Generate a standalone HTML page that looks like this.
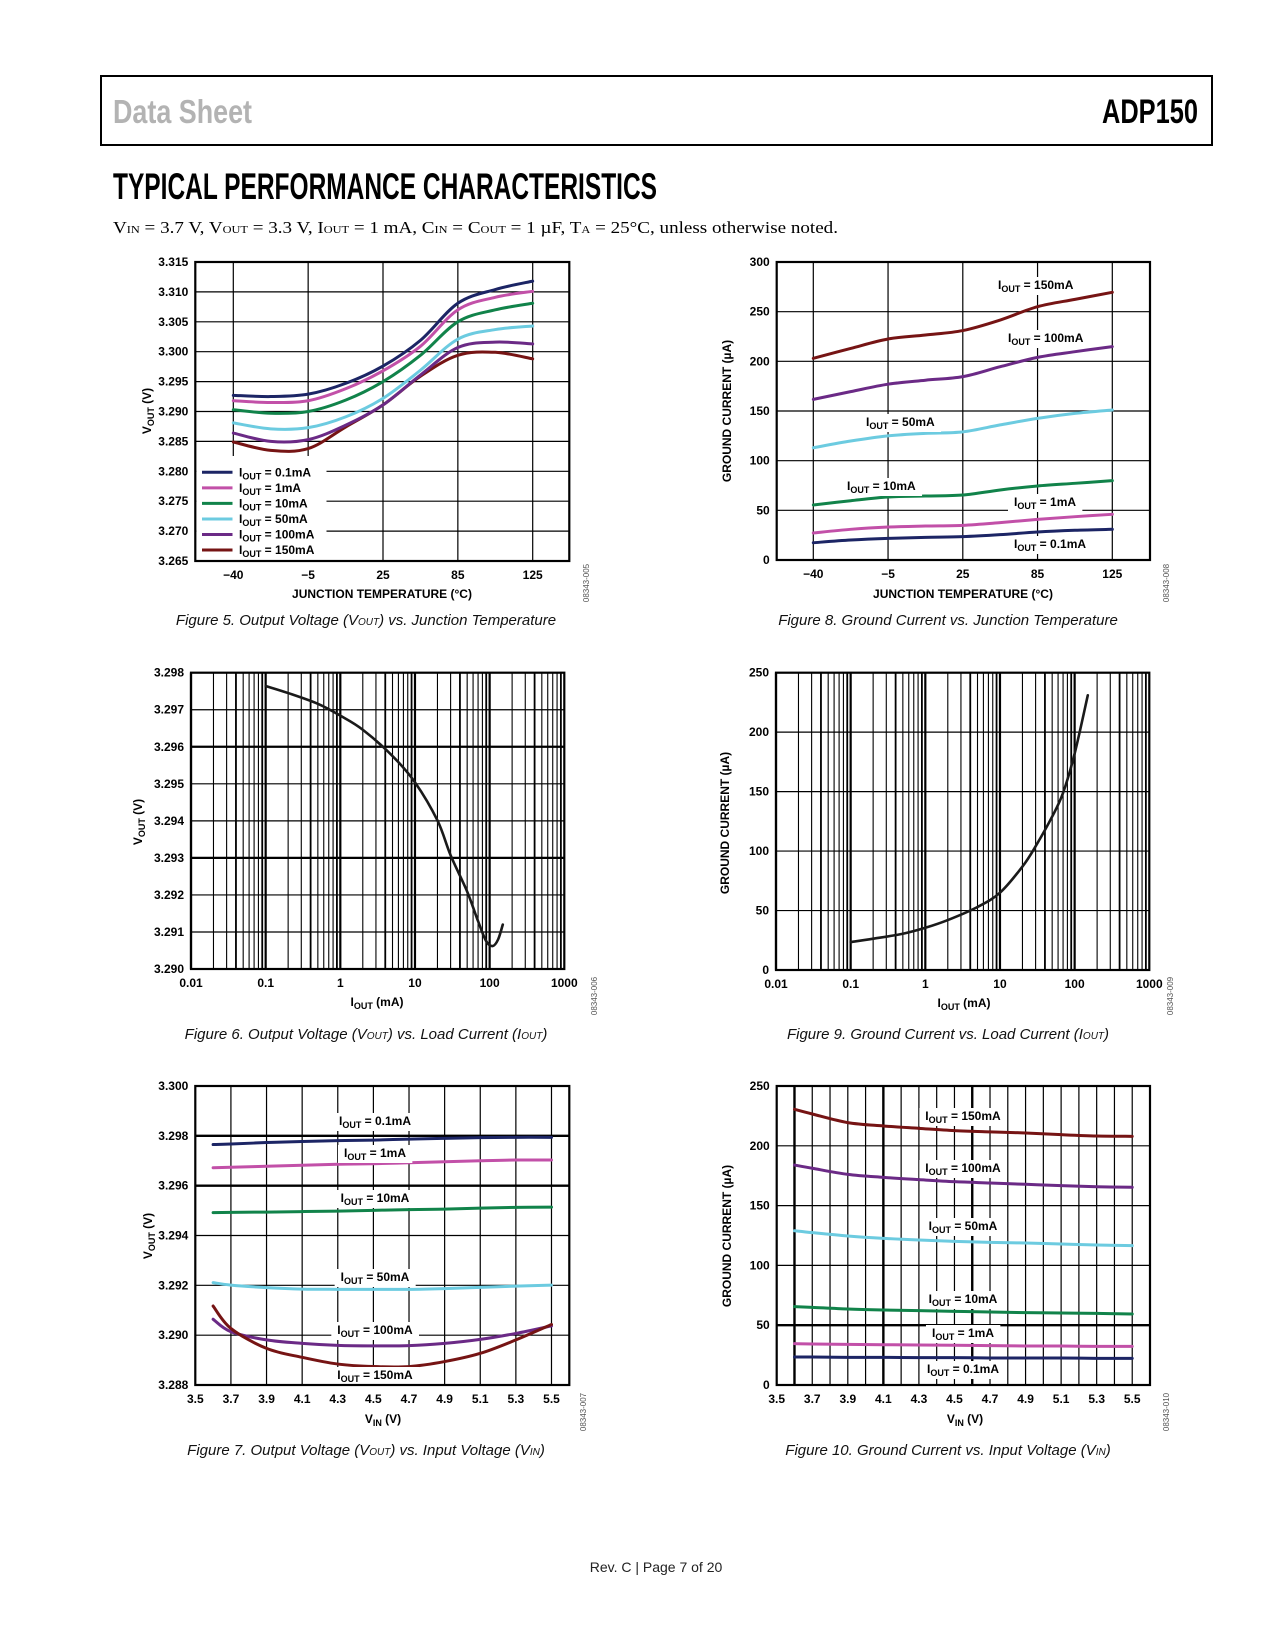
<!DOCTYPE html>
<html><head><meta charset="utf-8"><title>ADP150 Typical Performance Characteristics</title>
<style>
html,body{margin:0;padding:0;background:#fff;}
svg{display:block;}
.tk{font-family:"Liberation Sans",Arial,sans-serif;font-weight:bold;font-size:12px;fill:#000;}
.lab{font-family:"Liberation Sans",Arial,sans-serif;font-weight:bold;font-size:12px;fill:#000;}
.cap{font-family:"Liberation Sans",Arial,sans-serif;font-style:italic;font-size:15px;fill:#111;}
.fid{font-family:"Liberation Sans",Arial,sans-serif;font-size:8px;fill:#555;}
</style></head>
<body>
<svg id="page" width="1275" height="1650" viewBox="0 0 1275 1650" xmlns="http://www.w3.org/2000/svg">
  <rect x="0" y="0" width="1275" height="1650" fill="#fff"/>
  <rect x="101" y="76" width="1111" height="69" fill="none" stroke="#000" stroke-width="2"/>
  <text x="113" y="123" font-family="'Liberation Sans Narrow','Liberation Sans',sans-serif" font-weight="bold" font-size="33" fill="#b3b3b3" textLength="139" lengthAdjust="spacingAndGlyphs">Data Sheet</text>
  <text x="1102" y="123" font-family="'Liberation Sans Narrow','Liberation Sans',sans-serif" font-weight="bold" font-size="34" fill="#000" textLength="96" lengthAdjust="spacingAndGlyphs">ADP150</text>
  <text x="113" y="199" font-family="'Liberation Sans Narrow','Liberation Sans',sans-serif" font-weight="bold" font-size="37" fill="#000" textLength="544" lengthAdjust="spacingAndGlyphs">TYPICAL PERFORMANCE CHARACTERISTICS</text>
  <text x="113" y="233" font-family="'Liberation Serif',serif" font-size="17" fill="#000" textLength="725" lengthAdjust="spacingAndGlyphs">V<tspan font-size="11">IN</tspan> = 3.7 V, V<tspan font-size="11">OUT</tspan> = 3.3 V, I<tspan font-size="11">OUT</tspan> = 1 mA, C<tspan font-size="11">IN</tspan> = C<tspan font-size="11">OUT</tspan> = 1 µF, T<tspan font-size="11">A</tspan> = 25°C, unless otherwise noted.</text>
  <text x="656" y="1572" text-anchor="middle" font-family="'Liberation Sans',sans-serif" font-size="14" fill="#222">Rev. C | Page 7 of 20</text>
  <g id="charts"></g>
</svg>
<script>
// ---------- Figure 5 data ----------
const f5TempLabels = ["\u221240","\u22125","25","85","125"];
const f5Idx = [0,0.5,1,1.5,2,2.5,3,3.5,4];
const f5Yticks = [3.265,3.270,3.275,3.280,3.285,3.290,3.295,3.300,3.305,3.310,3.315];
const f5_01 = [3.2927,3.2925,3.2929,3.2947,3.2976,3.3019,3.3081,3.3104,3.3118];
const f5_1 = [3.2918,3.2915,3.2918,3.2938,3.2968,3.3009,3.3070,3.3091,3.3101];
const f5_10 = [3.2903,3.2897,3.2900,3.2919,3.2950,3.2994,3.3050,3.3070,3.3081];
const f5_50 = [3.2881,3.2871,3.2873,3.2891,3.2922,3.2969,3.3021,3.3037,3.3043];
const f5_100 = [3.2864,3.2850,3.2853,3.2877,3.2911,3.2961,3.3007,3.3016,3.3013];
const f5_150 = [3.2849,3.2835,3.2838,3.2874,3.2911,3.2959,3.2994,3.2999,3.2988];
// ---------- Figure 8 data ----------
const f8Yticks = [0,50,100,150,200,250,300];
const f8_150 = [203,213,222.5,226.5,231,241.6,255,262.4,269.5];
const f8_100 = [161.7,169.5,177,181,184.6,194.6,204,209.7,214.8];
const f8_50 = [113,119.8,125,127.5,129,136,142.6,147.6,151];
const f8_10 = [55.4,59.7,63.4,64.4,65.4,70.5,74.5,77.2,79.9];
const f8_1 = [27.2,30.9,33.2,34.2,34.9,37.6,40.9,43.6,46];
const f8_01 = [17.4,20.1,21.8,22.8,23.5,25.5,28.2,29.9,30.9];
// ---------- Figure 6 data ----------
const logTicks = [0.01,0.1,1,10,100,1000];
const logTickLabels = ["0.01","0.1","1","10","100","1000"];
const f6Yticks = [3.290,3.291,3.292,3.293,3.294,3.295,3.296,3.297,3.298];
const f6I = [0.1,0.2,0.5,1,2,5,10,20,30,50,70,90,110,130,150];
const f6V = [3.29764,3.29745,3.29716,3.29684,3.29646,3.29575,3.29504,3.29401,3.29307,3.29209,3.29129,3.29075,3.29062,3.29080,3.29120];
// ---------- Figure 9 data ----------
const f9Yticks = [0,50,100,150,200,250];
const f9I = [0.1,0.2,0.5,1,2,5,10,20,30,50,70,100,150];
const f9G = [23.5,26.3,30.5,35.5,42,53,65,87,104,129,149,182,231];
// ---------- Figure 7 data ----------
const vinTicks = [3.5,3.7,3.9,4.1,4.3,4.5,4.7,4.9,5.1,5.3,5.5];
const vinPts = [3.6,3.7,3.9,4.1,4.3,4.5,4.7,4.9,5.1,5.3,5.5];
const f7Yticks = [3.288,3.290,3.292,3.294,3.296,3.298,3.300];
const f7_01 = [3.29765,3.29767,3.29773,3.29777,3.29781,3.29783,3.29787,3.29790,3.29793,3.29794,3.29794];
const f7_1 = [3.29672,3.29674,3.29678,3.29682,3.29686,3.29688,3.29692,3.29696,3.29700,3.29703,3.29703];
const f7_10 = [3.29492,3.29493,3.29494,3.29496,3.29498,3.29501,3.29504,3.29506,3.29510,3.29513,3.29514];
const f7_50 = [3.29211,3.29201,3.29191,3.29185,3.29184,3.29184,3.29184,3.29187,3.29192,3.29197,3.29201];
const f7_100 = [3.29064,3.29014,3.28981,3.28967,3.28959,3.28957,3.28958,3.28967,3.28983,3.29007,3.29037];
const f7_150 = [3.29117,3.29027,3.28947,3.28911,3.28884,3.28874,3.28874,3.28894,3.28927,3.28981,3.29043];
// ---------- Figure 10 data ----------
const f10Yticks = [0,50,100,150,200,250];
const f10_150 = [230.5,226.6,219.4,216.6,214.6,212.7,211.6,210.7,209.3,208.2,207.9];
const f10_100 = [183.9,181.2,176.1,173.6,171.7,170,168.9,167.8,166.7,165.8,165.3];
const f10_50 = [129,127.4,124.6,122.6,121.2,120.1,119.3,118.7,117.9,117.1,116.5];
const f10_10 = [65.5,64.9,63.5,62.7,62.2,61.6,61,60.5,60.2,59.9,59.4];
const f10_1 = [34.6,34.3,34,33.7,33.4,33.2,32.9,32.6,32.6,32.3,32.3];
const f10_01 = [23.4,23.4,23.1,23.1,22.9,22.9,22.6,22.6,22.6,22.3,22.3];

const C = {n:"#1c2565",p:"#c250a8",g:"#11834a",c:"#6ccbe0",u:"#6b2a86",m:"#761414"};
const NS = "http://www.w3.org/2000/svg";
const root = document.getElementById('charts');

function mk(tag, attrs, parent){
  const e = document.createElementNS(NS, tag);
  for (const k in attrs) e.setAttribute(k, attrs[k]);
  (parent||root).appendChild(e);
  return e;
}
function lin(d0,d1,r0,r1){ return v => r0 + (v-d0)/(d1-d0)*(r1-r0); }
function logs(d0,d1,r0,r1){ const a=Math.log10(d0), b=Math.log10(d1); return v => r0 + (Math.log10(v)-a)/(b-a)*(r1-r0); }
function smoothPath(pts){
  let d = "M"+pts[0][0].toFixed(2)+","+pts[0][1].toFixed(2);
  for (let i=0;i<pts.length-1;i++){
    const p0=pts[i-1]||pts[i], p1=pts[i], p2=pts[i+1], p3=pts[i+2]||p2;
    const c1x=p1[0]+(p2[0]-p0[0])/6, c1y=p1[1]+(p2[1]-p0[1])/6;
    const c2x=p2[0]-(p3[0]-p1[0])/6, c2y=p2[1]-(p3[1]-p1[1])/6;
    d += " C"+c1x.toFixed(2)+","+c1y.toFixed(2)+" "+c2x.toFixed(2)+","+c2y.toFixed(2)+" "+p2[0].toFixed(2)+","+p2[1].toFixed(2);
  }
  return d;
}
function series(g, xs, ys, sx, sy, color, name, w){
  const pts = xs.map((x,i)=>[sx(x), sy(ys[i])]);
  const p = mk('path', {d:smoothPath(pts), fill:'none', stroke:color, 'stroke-width':w||3, 'stroke-linecap':'round','stroke-linejoin':'round'}, g);
  
  
  return p;
}
function hline(g,x1,x2,y,w){ mk('line',{x1:x1,x2:x2,y1:y,y2:y,stroke:'#000','stroke-width':w||1.2},g); }
function vline(g,x,y1,y2,w){ mk('line',{x1:x,x2:x,y1:y1,y2:y2,stroke:'#000','stroke-width':w||1.2},g); }
function ioutLabel(g, x, y, val, anchor, name, bg){
  const t = mk('text', {x:x, y:y+4, class:'lab', 'text-anchor':anchor||'start'}, g);
  
  
  t.innerHTML = 'I<tspan font-size="9" dy="3">OUT</tspan><tspan dy="-3"> = '+val+'</tspan>';
  if (bg!==false){
    const b = t.getBBox();
    const r = document.createElementNS(NS,'rect');
    r.setAttribute('x', b.x-6); r.setAttribute('y', b.y-1);
    r.setAttribute('width', b.width+12); r.setAttribute('height', b.height+2);
    r.setAttribute('fill','#fff');
    g.insertBefore(r, t);
  }
  return t;
}
function yAxisTitle(g,x,y,html,name){
  const t = mk('text',{x:0,y:0,class:'lab','text-anchor':'middle',transform:'translate('+x+','+y+') rotate(-90)'},g);
  
  
  t.innerHTML = html;
}
function txt(g,x,y,s,cls,anchor,name){
  const t = mk('text',{x:x,y:y,class:cls,'text-anchor':anchor||'middle'},g);
  
  
  t.innerHTML = s;
  return t;
}
function figId(g,x,y,s){
  const t = mk('text',{x:0,y:0,class:'fid','text-anchor':'middle',transform:'translate('+x+','+y+') rotate(-90)'},g);
  
  
  t.textContent = s;
}
function yTicks(g, ticks, sy, L, fmt){
  ticks.forEach(v=>{ const t=txt(g, L-8, sy(v)+4, fmt(v), 'tk', 'end', 'y-tick-label'); });
}
function frame(g,L,T,R,B){
  const r = mk('rect',{x:L,y:T,width:R-L,height:B-T,fill:'none',stroke:'#000','stroke-width':2.2},g);
  
  
}

// ================= Figure 5 =================
(function(){
  const g = mk('g',{});  
  const L=195.3,R=569.3,T=262,B=561;
  const sx = lin(0,4,233.3,532.7), sy = lin(3.265,3.315,B,T);
  f5Yticks.forEach(v=>hline(g,L,R,sy(v)));
  f5TempLabels.forEach((s,i)=>vline(g,sx(i),T,B));
  series(g,f5Idx,f5_150,sx,sy,C.m,'line-150ma');
  series(g,f5Idx,f5_100,sx,sy,C.u,'line-100ma');
  series(g,f5Idx,f5_50,sx,sy,C.c,'line-50ma');
  series(g,f5Idx,f5_10,sx,sy,C.g,'line-10ma');
  series(g,f5Idx,f5_1,sx,sy,C.p,'line-1ma');
  series(g,f5Idx,f5_01,sx,sy,C.n,'line-0p1ma');
  // legend
  const lg = mk('g',{},g);  
  mk('rect',{x:L+1.2,y:456,width:130,height:B-457,fill:'#fff'},lg);
  const ent = [["0.1mA",C.n],["1mA",C.p],["10mA",C.g],["50mA",C.c],["100mA",C.u],["150mA",C.m]];
  ent.forEach((e,i)=>{
    const y = 472.3 + i*15.55;
    const l = mk('line',{x1:202,x2:232.5,y1:y,y2:y,stroke:e[1],'stroke-width':3},lg);
     
    ioutLabel(lg,239,y,e[0],'start','legend-entry',false);
  });
  frame(g,L,T,R,B);
  yTicks(g,f5Yticks,sy,L+1,v=>v.toFixed(3));
  f5TempLabels.forEach((s,i)=>txt(g,sx(i),579,s,'tk','middle','x-tick-label'));
  txt(g,382,598,'JUNCTION TEMPERATURE (°C)','lab','middle','x-axis-title');
  yAxisTitle(g,151,411,'V<tspan font-size="9" dy="3">OUT</tspan><tspan dy="-3"> (V)</tspan>','y-axis-title');
  figId(g,589,583,'08343-005');
  txt(g,366,625,'Figure 5. Output Voltage (V<tspan font-size="10">OUT</tspan>) vs. Junction Temperature','cap','middle','figure-5-caption');
})();

// ================= Figure 8 =================
(function(){
  const g = mk('g',{});  
  const L=776.7,R=1150,T=262,B=560;
  const sx = lin(0,4,813.3,1112.3), sy = lin(0,300,B,T);
  f8Yticks.forEach(v=>hline(g,L,R,sy(v)));
  f5TempLabels.forEach((s,i)=>vline(g,sx(i),T,B));
  series(g,f5Idx,f8_150,sx,sy,C.m,'line-150ma');
  series(g,f5Idx,f8_100,sx,sy,C.u,'line-100ma');
  series(g,f5Idx,f8_50,sx,sy,C.c,'line-50ma');
  series(g,f5Idx,f8_10,sx,sy,C.g,'line-10ma');
  series(g,f5Idx,f8_1,sx,sy,C.p,'line-1ma');
  series(g,f5Idx,f8_01,sx,sy,C.n,'line-0p1ma');
  ioutLabel(g,998,285,'150mA','start','label-150ma');
  ioutLabel(g,1008,338,'100mA','start','label-100ma');
  ioutLabel(g,866,422,'50mA','start','label-50ma');
  ioutLabel(g,847,486,'10mA','start','label-10ma');
  ioutLabel(g,1014,502,'1mA','start','label-1ma');
  ioutLabel(g,1014,544,'0.1mA','start','label-0p1ma');
  frame(g,L,T,R,B);
  yTicks(g,f8Yticks,sy,L+1,v=>String(v));
  f5TempLabels.forEach((s,i)=>txt(g,sx(i),578,s,'tk','middle','x-tick-label'));
  txt(g,963,598,'JUNCTION TEMPERATURE (°C)','lab','middle','x-axis-title');
  yAxisTitle(g,731,411,'GROUND CURRENT (µA)','y-axis-title');
  figId(g,1169,583,'08343-008');
  txt(g,948,625,'Figure 8. Ground Current vs. Junction Temperature','cap','middle','figure-8-caption');
})();

function logGrid(g,sx,T,B){
  for (let d=-2; d<3; d++){
    for (let m=1; m<10; m++){
      const v = m*Math.pow(10,d);
      vline(g,sx(v),T,B, m===1?2.2:(m===4||m===9?1.8:1.1));
    }
  }
}
// ================= Figure 6 =================
(function(){
  const g = mk('g',{});  
  const L=191,R=564.3,T=672.7,B=969;
  const sx = logs(0.01,1000,L,R), sy = lin(3.290,3.298,B,T);
  logGrid(g,sx,T,B);
  f6Yticks.forEach(v=>hline(g,L,R,sy(v), (Math.abs(v-3.296)<1e-6||Math.abs(v-3.293)<1e-6)?2.2:1.2));
  series(g,f6I,f6V,sx,sy,'#1a1a1a','line-vout',2.6);
  frame(g,L,T,R,B);
  yTicks(g,f6Yticks,sy,L+1,v=>v.toFixed(3));
  logTicks.forEach((v,i)=>txt(g,sx(v),987,logTickLabels[i],'tk','middle','x-tick-label'));
  txt(g,377,1006,'I<tspan font-size="9" dy="3">OUT</tspan><tspan dy="-3"> (mA)</tspan>','lab','middle','x-axis-title');
  yAxisTitle(g,142,822,'V<tspan font-size="9" dy="3">OUT</tspan><tspan dy="-3"> (V)</tspan>','y-axis-title');
  figId(g,597,996,'08343-006');
  txt(g,366,1039,'Figure 6. Output Voltage (V<tspan font-size="10">OUT</tspan>) vs. Load Current (I<tspan font-size="10">OUT</tspan>)','cap','middle','figure-6-caption');
})();

// ================= Figure 9 =================
(function(){
  const g = mk('g',{});  
  const L=776,R=1149.3,T=672.7,B=970;
  const sx = logs(0.01,1000,L,R), sy = lin(0,250,B,T);
  logGrid(g,sx,T,B);
  f9Yticks.forEach(v=>hline(g,L,R,sy(v)));
  series(g,f9I,f9G,sx,sy,'#1a1a1a','line-ground-current',2.6);
  frame(g,L,T,R,B);
  yTicks(g,f9Yticks,sy,L+1,v=>String(v));
  logTicks.forEach((v,i)=>txt(g,sx(v),988,logTickLabels[i],'tk','middle','x-tick-label'));
  txt(g,964,1007,'I<tspan font-size="9" dy="3">OUT</tspan><tspan dy="-3"> (mA)</tspan>','lab','middle','x-axis-title');
  yAxisTitle(g,729,823,'GROUND CURRENT (µA)','y-axis-title');
  figId(g,1173,996,'08343-009');
  txt(g,948,1039,'Figure 9. Ground Current vs. Load Current (I<tspan font-size="10">OUT</tspan>)','cap','middle','figure-9-caption');
})();

// ================= Figure 7 =================
(function(){
  const g = mk('g',{});  
  const L=195.3,R=569.3,T=1086,B=1385;
  const sx = lin(3.5,5.6,L,R), sy = lin(3.288,3.300,B,T);
  vinTicks.slice(1).forEach(v=>vline(g,sx(v),T,B));
  f7Yticks.forEach(v=>hline(g,L,R,sy(v),(Math.abs(v-3.298)<1e-6||Math.abs(v-3.296)<1e-6)?2.4:1.2));
  series(g,vinPts,f7_01,sx,sy,C.n,'line-0p1ma');
  series(g,vinPts,f7_1,sx,sy,C.p,'line-1ma');
  series(g,vinPts,f7_10,sx,sy,C.g,'line-10ma');
  series(g,vinPts,f7_50,sx,sy,C.c,'line-50ma');
  series(g,vinPts,f7_100,sx,sy,C.u,'line-100ma');
  series(g,vinPts,f7_150,sx,sy,C.m,'line-150ma');
  ioutLabel(g,375,1121,'0.1mA','middle','label-0p1ma');
  ioutLabel(g,375,1153,'1mA','middle','label-1ma');
  ioutLabel(g,375,1198,'10mA','middle','label-10ma');
  ioutLabel(g,375,1277,'50mA','middle','label-50ma');
  ioutLabel(g,375,1330,'100mA','middle','label-100ma');
  ioutLabel(g,375,1375,'150mA','middle','label-150ma');
  frame(g,L,T,R,B);
  yTicks(g,f7Yticks,sy,L+1,v=>v.toFixed(3));
  vinTicks.forEach(v=>txt(g,sx(v),1403,v.toFixed(1),'tk','middle','x-tick-label'));
  txt(g,383,1423,'V<tspan font-size="9" dy="3">IN</tspan><tspan dy="-3"> (V)</tspan>','lab','middle','x-axis-title');
  yAxisTitle(g,152,1236,'V<tspan font-size="9" dy="3">OUT</tspan><tspan dy="-3"> (V)</tspan>','y-axis-title');
  figId(g,586,1412,'08343-007');
  txt(g,366,1455,'Figure 7. Output Voltage (V<tspan font-size="10">OUT</tspan>) vs. Input Voltage (V<tspan font-size="10">IN</tspan>)','cap','middle','figure-7-caption');
})();

// ================= Figure 10 =================
(function(){
  const g = mk('g',{});  
  const L=776.7,R=1150,T=1086,B=1385;
  const sx = lin(3.5,5.6,L,R), sy = lin(0,250,B,T);
  for (let k=1;k<=20;k++){ const v=3.5+k*0.1; vline(g,sx(v),T,B,(k===1||k===6||k===11)?2.4:1.2); }
  f10Yticks.forEach(v=>hline(g,L,R,sy(v),v===50?2.4:1.2));
  series(g,vinPts,f10_150,sx,sy,C.m,'line-150ma');
  series(g,vinPts,f10_100,sx,sy,C.u,'line-100ma');
  series(g,vinPts,f10_50,sx,sy,C.c,'line-50ma');
  series(g,vinPts,f10_10,sx,sy,C.g,'line-10ma');
  series(g,vinPts,f10_1,sx,sy,C.p,'line-1ma');
  series(g,vinPts,f10_01,sx,sy,C.n,'line-0p1ma');
  ioutLabel(g,963,1116,'150mA','middle','label-150ma');
  ioutLabel(g,963,1168,'100mA','middle','label-100ma');
  ioutLabel(g,963,1226,'50mA','middle','label-50ma');
  ioutLabel(g,963,1299,'10mA','middle','label-10ma');
  ioutLabel(g,963,1333,'1mA','middle','label-1ma');
  ioutLabel(g,963,1369,'0.1mA','middle','label-0p1ma');
  frame(g,L,T,R,B);
  yTicks(g,f10Yticks,sy,L+1,v=>String(v));
  vinTicks.forEach(v=>txt(g,sx(v),1403,v.toFixed(1),'tk','middle','x-tick-label'));
  txt(g,965,1423,'V<tspan font-size="9" dy="3">IN</tspan><tspan dy="-3"> (V)</tspan>','lab','middle','x-axis-title');
  yAxisTitle(g,731,1236,'GROUND CURRENT (µA)','y-axis-title');
  figId(g,1169,1412,'08343-010');
  txt(g,948,1455,'Figure 10. Ground Current vs. Input Voltage (V<tspan font-size="10">IN</tspan>)','cap','middle','figure-10-caption');
})();
</script>
</body></html>
